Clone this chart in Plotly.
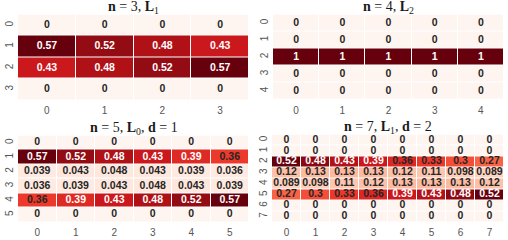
import plotly.graph_objects as go

# ---------------- data ----------------
titles = [
    "<b>n</b> = 3, <b>L</b><sub>1</sub>",
    "<b>n</b> = 4, <b>L</b><sub>2</sub>",
    "<b>n</b> = 5, <b>L</b><sub>0</sub>, <b>d</b> = 1",
    "<b>n</b> = 7, <b>L</b><sub>1</sub>, <b>d</b> = 2",
]

m1 = [
    [0, 0, 0, 0],
    [0.57, 0.52, 0.48, 0.43],
    [0.43, 0.48, 0.52, 0.57],
    [0, 0, 0, 0],
]
m2 = [
    [0, 0, 0, 0, 0],
    [0, 0, 0, 0, 0],
    [1, 1, 1, 1, 1],
    [0, 0, 0, 0, 0],
    [0, 0, 0, 0, 0],
]
m3 = [
    [0, 0, 0, 0, 0, 0],
    [0.57, 0.52, 0.48, 0.43, 0.39, 0.36],
    [0.039, 0.043, 0.048, 0.043, 0.039, 0.036],
    [0.036, 0.039, 0.043, 0.048, 0.043, 0.039],
    [0.36, 0.39, 0.43, 0.48, 0.52, 0.57],
    [0, 0, 0, 0, 0, 0],
]
m4 = [
    [0, 0, 0, 0, 0, 0, 0, 0],
    [0, 0, 0, 0, 0, 0, 0, 0],
    [0.52, 0.48, 0.43, 0.39, 0.36, 0.33, 0.3, 0.27],
    [0.12, 0.13, 0.13, 0.13, 0.12, 0.11, 0.098, 0.089],
    [0.089, 0.098, 0.11, 0.12, 0.13, 0.13, 0.13, 0.12],
    [0.27, 0.3, 0.33, 0.36, 0.39, 0.43, 0.48, 0.52],
    [0, 0, 0, 0, 0, 0, 0, 0],
    [0, 0, 0, 0, 0, 0, 0, 0],
]
matrices = [m1, m2, m3, m4]

# ---------------- style ----------------
W, H = 508, 240
reds = ["#fff5f0", "#fee0d2", "#fcbba1", "#fc9272", "#fb6a4a",
        "#ef3b2c", "#cb181d", "#a50f15", "#67000d"]
colorscale = [[i / (len(reds) - 1), c] for i, c in enumerate(reds)]

# pixel boxes (left, right, top, bottom) for each heatmap
boxes = [
    (18, 249, 14.5, 100),
    (273, 504, 14.5, 99.5),
    (18, 249, 135.5, 222),
    (272, 504, 134.5, 222),
]

fig = go.Figure()
annotations = []
for k, (mat, title, box) in enumerate(zip(matrices, titles, boxes)):
    nr, nc = len(mat), len(mat[0])
    sfx = "" if k == 0 else str(k + 1)
    xa, ya = "x" + sfx, "y" + sfx
    zmax = max(max(r) for r in mat)
    fig.add_trace(go.Heatmap(
        z=mat, x=list(range(nc)), y=list(range(nr)),
        colorscale=colorscale, zmin=0, zmax=zmax,
        xgap=1, ygap=1, showscale=False, hoverinfo="skip",
        xaxis=xa, yaxis=ya,
    ))
    xs, ys, txt, cols = [], [], [], []
    for i, row in enumerate(mat):
        for j, v in enumerate(row):
            xs.append(j)
            ys.append(i)
            txt.append(format(v, ".2g"))
            cols.append("#ffffff" if v >= 0.375 else "#262626")
    fig.add_trace(go.Scatter(
        x=xs, y=ys, text=txt, mode="text",
        textfont=dict(family="Liberation Sans", size=10.5, color=cols, weight="bold"),
        xaxis=xa, yaxis=ya, showlegend=False, hoverinfo="skip",
    ))
    l, r, t, b = box
    axx = dict(domain=[l / W, r / W], anchor=ya, range=[-0.5, nc - 0.5],
               showgrid=False, zeroline=False, showline=False, ticks="",
               tickmode="array", tickvals=list(range(nc)),
               ticktext=[str(j) for j in range(nc)],
               tickfont=dict(family="Liberation Sans", size=10, color="#555555"),
               ticklabelstandoff=3)
    axy = dict(domain=[1 - b / H, 1 - t / H], anchor=xa, range=[nr - 0.5, -0.5],
               showgrid=False, zeroline=False, showline=False, ticks="",
               tickmode="array", tickvals=list(range(nr)),
               ticktext=[str(i) for i in range(nr)], tickangle=-90,
               tickfont=dict(family="Liberation Sans", size=10, color="#555555"),
               ticklabelstandoff=2)
    fig.layout["xaxis" + sfx] = axx
    fig.layout["yaxis" + sfx] = axy
    annotations.append(dict(
        text=title, x=(l + r) / 2 / W, y=1 - (t - 7.5) / H,
        xref="paper", yref="paper", xanchor="center", yanchor="middle",
        showarrow=False, font=dict(family="Liberation Serif", size=14, color="#1a1a1a"),
    ))

fig.update_layout(
    width=W, height=H, margin=dict(l=0, r=0, t=0, b=0),
    paper_bgcolor="white", plot_bgcolor="white",
    annotations=annotations, showlegend=False,
)
fig.write_html("out.html")
